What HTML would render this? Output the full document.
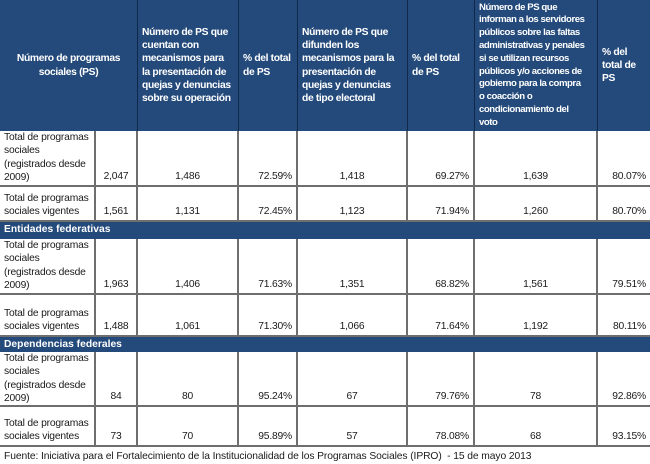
<!DOCTYPE html>
<html><head><meta charset="utf-8"><style>
body{margin:0;width:650px;height:463px;background:#fff;position:relative;overflow:hidden;font-family:"Liberation Sans",sans-serif;font-size:10.3px;color:#1a1a1a}
.c{position:absolute;box-sizing:border-box;display:flex;line-height:13.3px;padding:1px 4px;letter-spacing:-0.2px}
.h{background:#244a7b;color:#fff;font-weight:bold;align-items:center;border-right:1px solid #10284a;letter-spacing:-0.35px}
.b{border-right:2px solid #6e6e6e;border-bottom:2px solid #6e6e6e;align-items:flex-end;padding-bottom:2px}
.l{align-items:flex-start;padding-top:0}
.ctr{justify-content:center}.r{justify-content:flex-end}
.s{background:#244a7b;color:#fff;font-weight:bold;position:absolute;left:0;width:650px;padding-left:4px;box-sizing:border-box;line-height:16px}
</style></head><body>
<div class="c h ctr" style="left:0;top:0;width:138px;height:131px;text-align:center">Número de programas sociales (PS)</div>
<div class="c h" style="left:138px;top:0;width:101px;height:131px">Número de PS que cuentan con mecanismos para la presentación de quejas y denuncias sobre su operación</div>
<div class="c h" style="left:239px;top:0;width:59px;height:131px">% del total de PS</div>
<div class="c h" style="left:298px;top:0;width:110px;height:131px">Número de PS que difunden los mecanismos para la presentación de quejas y denuncias de tipo electoral</div>
<div class="c h" style="left:408px;top:0;width:67px;height:131px">% del total de PS</div>
<div class="c h" style="left:475px;top:0;width:123px;height:131px;padding:0 1px 0 4px;font-size:9.6px;letter-spacing:-0.45px;line-height:12.8px;white-space:nowrap"><div>Número de PS que<br>informan a los servidores<br>públicos sobre las faltas<br>administrativas y penales<br>si se utilizan recursos<br>públicos y/o acciones de<br>gobierno para la compra<br>o coacción o<br>condicionamiento del<br>voto</div></div>
<div class="c h" style="left:598px;top:0;width:52px;height:131px;border-right:none">% del total de PS</div>

<div class="s" style="top:222px;height:17px">Entidades federativas</div>
<div class="s" style="top:337px;height:15px;line-height:15px">Dependencias federales</div>

<div id="rows"></div>
<script>
var rows=[
[131,187,"Total de programas sociales (registrados desde 2009)",["2,047","1,486","72.59%","1,418","69.27%","1,639","80.07%"]],
[187,222,"Total de programas sociales vigentes",["1,561","1,131","72.45%","1,123","71.94%","1,260","80.70%"]],
[239,295,"Total de programas sociales (registrados desde 2009)",["1,963","1,406","71.63%","1,351","68.82%","1,561","79.51%"]],
[295,337,"Total de programas sociales vigentes",["1,488","1,061","71.30%","1,066","71.64%","1,192","80.11%"]],
[352,407,"Total de programas sociales (registrados desde 2009)",["84","80","95.24%","67","79.76%","78","92.86%"]],
[407,447,"Total de programas sociales vigentes",["73","70","95.89%","57","78.08%","68","93.15%"]]];
var xs=[0,96,138,239,298,408,475,598,650];
var al=["","ctr","ctr","r","ctr","r","ctr","r"];
var h="";
rows.forEach(function(r){
 var t=r[0],hh=r[1]-r[0];
 var label=r[2];
 var pad=(hh>50)?"":"padding-top:"+(hh-30)+"px;";
 h+='<div class="c b l" style="left:0;top:'+t+'px;width:96px;height:'+hh+'px;'+pad+'">'+label+'</div>';
 for(var i=1;i<8;i++){
  h+='<div class="c b '+al[i]+'" style="left:'+xs[i]+'px;top:'+t+'px;width:'+(xs[i+1]-xs[i])+'px;height:'+hh+'px;'+(i==7?'border-right:none;':'')+'">'+r[3][i-1]+'</div>';
 }
});
document.getElementById("rows").innerHTML=h;
</script>
<div style="position:absolute;left:4px;top:450px;font-size:10.3px;line-height:14px;letter-spacing:-0.1px">Fuente: Iniciativa para el Fortalecimiento de la Institucionalidad de los Programas Sociales (IPRO)&nbsp; - 15 de mayo 2013</div>
</body></html>
